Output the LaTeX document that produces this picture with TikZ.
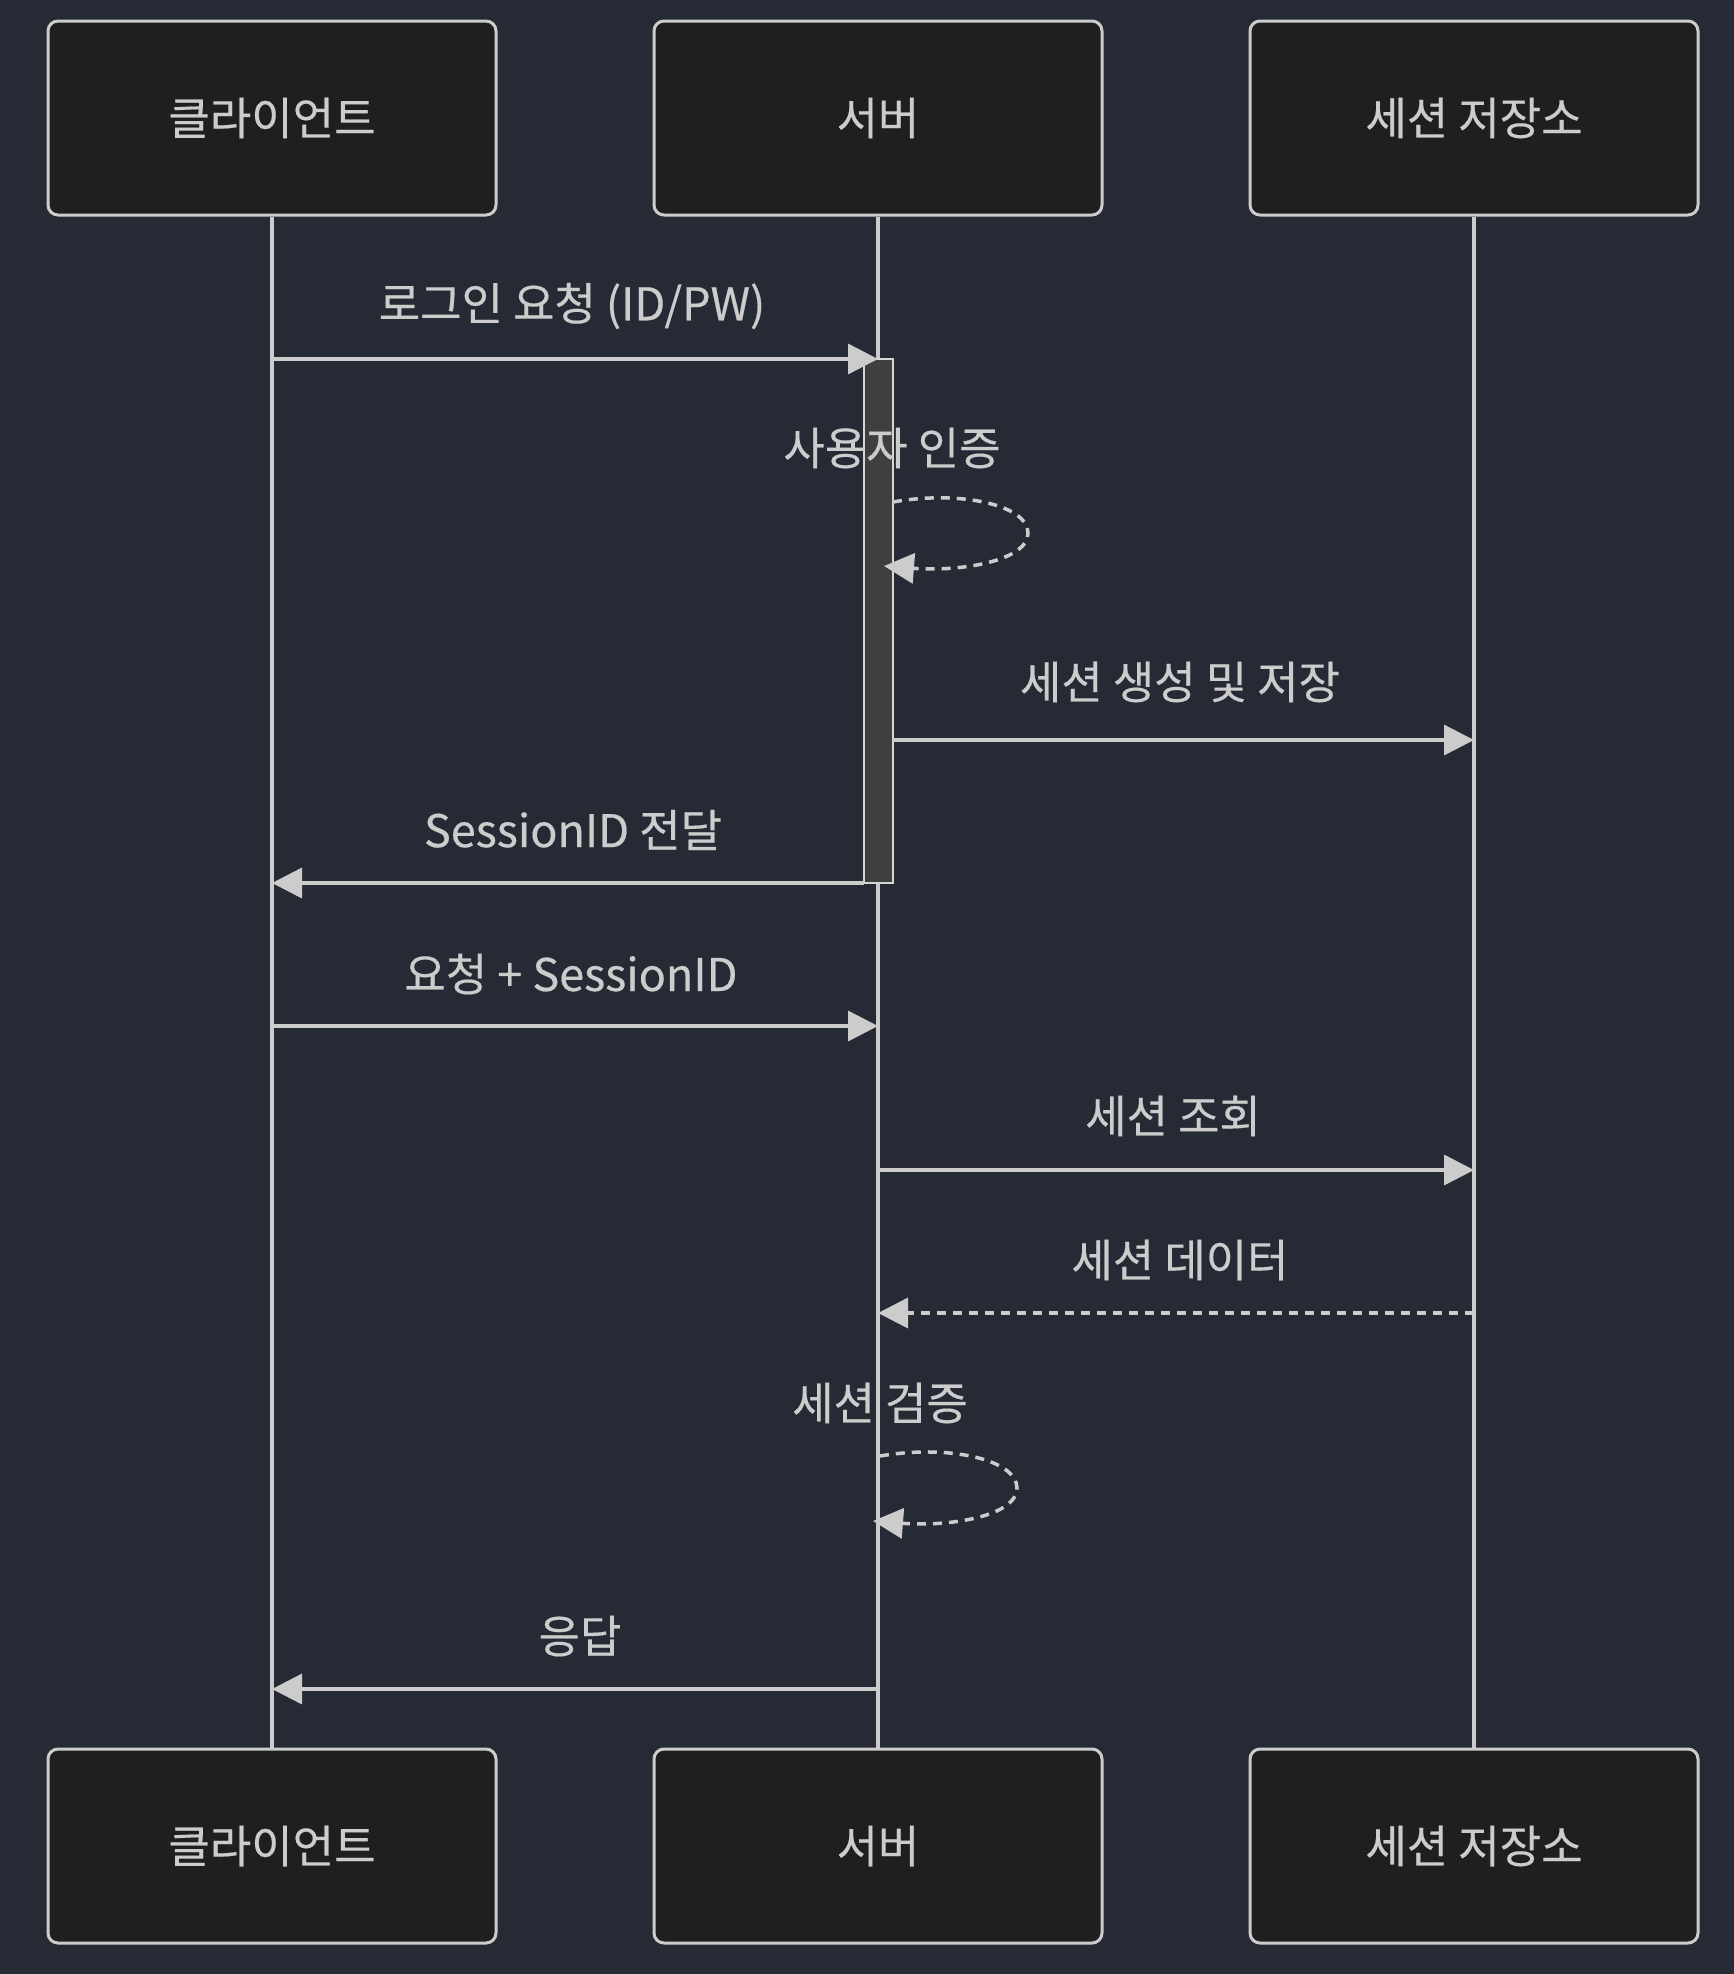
\documentclass[tikz,border=0pt]{standalone}
\usepackage{fontspec}
\setmainfont{Noto Sans CJK KR}[FakeBold=0.4]
\usetikzlibrary{arrows.meta}
\definecolor{bg}{HTML}{262A35}
\definecolor{boxfill}{HTML}{1F1F1F}
\definecolor{fg}{HTML}{CCCCCC}
\definecolor{actfill}{HTML}{3E403F}
\begin{document}
\begin{tikzpicture}[x=1pt,y=-1pt,
  actor/.style={draw=fg,fill=boxfill,line width=3pt,rounded corners=10pt,
    minimum width=448pt,minimum height=194pt,inner sep=0pt,text=fg,
    font=\fontsize{45}{52}\selectfont},
  life/.style={draw=fg,line width=3.5pt},
  msg/.style={draw=fg,line width=3.5pt,-{Triangle[length=30pt,width=30pt]}},
  ret/.style={msg,dash pattern=on 9pt off 7pt},
  lbl/.style={text=fg,font=\fontsize{45}{52}\selectfont,inner sep=0pt},
  actbox/.style={draw=fg!80,fill=actfill,line width=2pt,minimum width=29pt,minimum height=524pt,inner sep=0pt}
]
\fill[bg] (0,0) rectangle (1734,1974);
\useasboundingbox (0,0) rectangle (1734,1974);

% actors
\node[actor] (c1) at (272,118) {클라이언트};
\node[actor] (s1) at (878,118) {서버};
\node[actor] (d1) at (1474,118) {세션 저장소};
\node[actor] (c2) at (272,1846) {클라이언트};
\node[actor] (s2) at (878,1846) {서버};
\node[actor] (d2) at (1474,1846) {세션 저장소};

% lifelines
\draw[life] (c1.south) -- (c2.north);
\draw[life] (s1.south) -- (s2.north);
\draw[life] (d1.south) -- (d2.north);

% activation
\node[actbox] (act) at (878.5,621) {};

% message anchor coordinates
\coordinate (a1) at (272,359);  \coordinate (b1) at (878,359);
\coordinate (a3) at (893,740);  \coordinate (b3) at (1474,740);
\coordinate (a4) at (864,883);  \coordinate (b4) at (272,883);
\coordinate (a5) at (272,1026); \coordinate (b5) at (878,1026);
\coordinate (a6) at (878,1170); \coordinate (b6) at (1474,1170);
\coordinate (a7) at (1474,1313);\coordinate (b7) at (878,1313);
\coordinate (a9) at (878,1689); \coordinate (b9) at (272,1689);
\coordinate (l1s) at (893,502); \coordinate (l1e) at (884,566);
\coordinate (l2s) at (880,1456);\coordinate (l2e) at (873,1521);

\draw[msg] (a1) -- (b1);
\node[lbl] (t1) at (572,306) {로그인 요청 (ID/PW)};

\draw[ret] (l1s) .. controls (960,490) and (1028,505) .. (1028,533)
  .. controls (1028,561) and (960,572) .. (l1e);
\node[lbl] (t2) at (892,448) {사용자 인증};

\draw[msg] (a3) -- (b3);
\node[lbl] (t3) at (1180,682) {세션 생성 및 저장};

\draw[msg] (a4) -- (b4);
\node[lbl] (t4) at (573,830) {SessionID 전달};

\draw[msg] (a5) -- (b5);
\node[lbl] (t5) at (571,974) {요청 + SessionID};

\draw[msg] (a6) -- (b6);
\node[lbl] (t6) at (1173,1116) {세션 조회};

\draw[ret] (a7) -- (b7);
\node[lbl] (t7) at (1180,1260) {세션 데이터};

\draw[ret] (l2s) .. controls (950,1444) and (1017,1460) .. (1017,1488)
  .. controls (1017,1516) and (950,1527) .. (l2e);
\node[lbl] (t8) at (880,1403) {세션 검증};

\draw[msg] (a9) -- (b9);
\node[lbl] (t9) at (580,1636) {응답};
\end{tikzpicture}
\end{document}
